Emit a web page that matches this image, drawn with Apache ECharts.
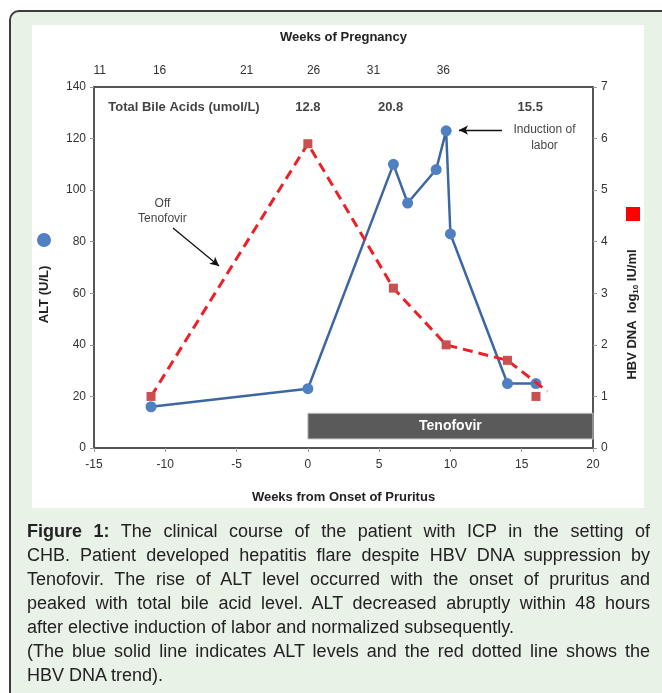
<!DOCTYPE html>
<html><head><meta charset="utf-8">
<script src="https://cdn.jsdelivr.net/npm/echarts@6/dist/echarts.min.js"></script>
<style>
html,body{margin:0;padding:0;width:662px;height:693px;overflow:hidden;background:#fff;font-family:"Liberation Sans",Arial,sans-serif;}
#frame{position:absolute;left:9px;top:10px;width:700px;height:720px;border:2px solid #3c3c3c;border-radius:10px;background:#e9f2e6;box-sizing:border-box;}
#panel{position:absolute;left:32px;top:25px;width:612px;height:483px;background:#fff;}
#chart{position:absolute;left:0;top:0;width:662px;height:693px;}
#caption{position:absolute;left:27px;top:519px;width:623px;font-size:18px;line-height:24px;color:#222;}
#caption div{white-space:nowrap;}
#caption .j{text-align:justify;text-align-last:justify;}
</style></head>
<body>
<div id="frame"></div>
<div id="panel"></div>
<div id="chart"></div>
<div id="caption">
<div class="j"><b>Figure 1:</b> The clinical course of the patient with ICP in the setting of</div>
<div class="j">CHB. Patient developed hepatitis flare despite HBV DNA suppression by</div>
<div class="j">Tenofovir. The rise of ALT level occurred with the onset of pruritus and</div>
<div class="j">peaked with total bile acid level. ALT decreased abruptly within 48 hours</div>
<div>after elective induction of labor and normalized subsequently.</div>
<div class="j">(The blue solid line indicates ALT levels and the red dotted line shows the</div>
<div>HBV DNA trend).</div>
</div>
<script>
// ---- data ----
const altWeeks = [-11, 0, 6, 7, 9, 9.7, 10, 14, 16];
const altValues = [16, 23, 110, 95, 108, 123, 83, 25, 25];
const hbvWeeks = [-11, 0, 6, 9.7, 14, 16];
const hbvValues = [1.0, 5.9, 3.1, 2.0, 1.7, 1.0];
const hbvTrendWeeks = [-11, 0, 6, 9.7, 14, 16.8];
const hbvTrendValues = [1.0, 5.9, 3.1, 2.0, 1.7, 1.1];
const pregnancyWeeks = ['11', '16', '21', '26', '31', '36'];
const pregnancyWeekAt = [-14.6, -10.4, -4.3, 0.4, 4.6, 9.5];
const bileAcidWeeks = [0, 5.8, 15.6];
const bileAcidValues = ['12.8', '20.8', '15.5'];
const bileAcidTitle = 'Total Bile Acids (umol/L)';
const tenofovirPeriod = [0, 20];

const FONT = '"Liberation Sans", Arial, sans-serif';
const zip = (a, b) => a.map((v, i) => [v, b[i]]);

const chart = echarts.init(document.getElementById('chart'), null, {renderer: 'canvas'});
const axisLineStyle = {color: '#555', width: 2};
const labelStyle = {color: '#333', fontSize: 12, fontFamily: FONT};
const nameStyle = {color: '#222', fontSize: 13, fontWeight: 'bold', fontFamily: FONT};

const bileLabels = [{value: [-14, 132.2], label: {formatter: bileAcidTitle, align: 'left'}}]
  .concat(bileAcidWeeks.map((w, i) => ({value: [w, 132.2], label: {formatter: bileAcidValues[i], align: 'center'}})));

const option = {
  animation: false,
  textStyle: {fontFamily: FONT},
  grid: {left: 94, top: 87, width: 499, height: 361, containLabel: false},
  legend: [
    {left: 37, top: 233, padding: 0, itemWidth: 14, itemHeight: 14, selectedMode: false,
     formatter: () => '', data: [{name: 'ALT (U/L)', icon: 'circle', itemStyle: {color: '#4f81c2'}}]},
    {left: 626, top: 207, padding: 0, itemWidth: 14, itemHeight: 14, selectedMode: false,
     formatter: () => '', data: [{name: 'HBV DNA', icon: 'rect', itemStyle: {color: '#ff0000'}}]}
  ],
  xAxis: [
    {type: 'value', position: 'bottom', min: -15, max: 20, interval: 5,
     axisLine: {show: true, onZero: false, lineStyle: axisLineStyle},
     axisTick: {show: true, length: 4, lineStyle: {color: '#999'}},
     axisLabel: Object.assign({margin: 11}, labelStyle),
     splitLine: {show: false},
     name: 'Weeks from Onset of Pruritus', nameLocation: 'middle', nameGap: 43, nameTextStyle: nameStyle},
    {type: 'value', position: 'top', min: -15, max: 20,
     axisLine: {show: true, onZero: false, lineStyle: axisLineStyle},
     axisTick: {show: false},
     axisLabel: Object.assign({margin: 10, customValues: pregnancyWeekAt, formatter: (v) => {
       let best = 0; pregnancyWeekAt.forEach((p, i) => { if (Math.abs(p - v) < Math.abs(pregnancyWeekAt[best] - v)) best = i; });
       return pregnancyWeeks[best];
     }}, labelStyle),
     splitLine: {show: false},
     name: 'Weeks of Pregnancy', nameLocation: 'middle', nameGap: 43, nameTextStyle: nameStyle}
  ],
  yAxis: [
    {type: 'value', position: 'left', min: 0, max: 140, interval: 20,
     axisLine: {show: true, onZero: false, lineStyle: axisLineStyle},
     axisTick: {show: true, length: 4, lineStyle: {color: '#999'}},
     axisLabel: Object.assign({margin: 8}, labelStyle),
     splitLine: {show: false},
     name: 'ALT (U/L)', nameLocation: 'middle', nameGap: 43, nameRotate: 90,
     nameTextStyle: Object.assign({padding: [0, 54, 0, 0]}, nameStyle)},
    {type: 'value', position: 'right', min: 0, max: 7, interval: 1,
     axisLine: {show: true, onZero: false, lineStyle: axisLineStyle},
     axisTick: {show: true, length: 4, lineStyle: {color: '#999'}},
     axisLabel: Object.assign({margin: 8}, labelStyle),
     splitLine: {show: false},
     name: 'HBV DNA  log{s|10} IU/ml', nameLocation: 'middle', nameGap: 32, nameRotate: 90,
     nameTextStyle: Object.assign({padding: [0, 94, 0, 0],
       rich: {s: {fontSize: 8, fontWeight: 'bold', color: '#222', padding: [7, 0, 0, 0], fontFamily: FONT}}}, nameStyle)}
  ],
  series: [
    {name: 'Notes', type: 'scatter', xAxisIndex: 0, yAxisIndex: 0, symbolSize: 0, silent: true, z: 1,
     data: bileLabels.concat([
       {value: [-10.2, 92], label: {formatter: 'Off\nTenofovir', align: 'center', fontWeight: 'normal', fontSize: 12, lineHeight: 15}},
       {value: [16.6, 120.2], label: {formatter: 'Induction of\nlabor', align: 'center', fontWeight: 'normal', fontSize: 12, lineHeight: 16}}
     ]),
     label: {show: true, position: 'inside', color: '#111', fontSize: 13, fontWeight: 'bold', fontFamily: FONT},
     markArea: {silent: true,
       itemStyle: {color: '#5a5a5a', borderColor: '#c8c8c8', borderWidth: 1},
       label: {show: true, position: 'inside', color: '#fff', fontWeight: 'bold', fontSize: 14, fontFamily: FONT},
       data: [[{name: 'Tenofovir', xAxis: tenofovirPeriod[0], yAxis: 3.5}, {xAxis: tenofovirPeriod[1], yAxis: 13.5}]]},
     markLine: {silent: true, symbol: ['none', 'arrow'], symbolSize: [7, 9],
       lineStyle: {color: '#111', width: 1.3, type: 'solid'}, label: {show: false},
       data: [
         [{coord: [-9.46, 85.3]}, {coord: [-6.23, 70.6]}],
         [{coord: [13.62, 123.3]}, {coord: [10.6, 123.3]}]
       ]}
    },
    {name: 'ALT (U/L)', type: 'line', xAxisIndex: 0, yAxisIndex: 0, z: 3,
     data: zip(altWeeks, altValues), symbol: 'circle', symbolSize: 11,
     lineStyle: {color: '#3d67a3', width: 2.5}, itemStyle: {color: '#4f81c2'}},
    {name: 'HBV DNA', type: 'line', xAxisIndex: 0, yAxisIndex: 1, z: 4,
     data: zip(hbvTrendWeeks, hbvTrendValues), symbol: 'none',
     lineStyle: {color: '#ee1f26', width: 3, type: [10, 6]}, itemStyle: {color: '#ee1f26'}},
    {name: 'HBV DNA markers', type: 'scatter', xAxisIndex: 0, yAxisIndex: 1, z: 5,
     data: zip(hbvWeeks, hbvValues), symbol: 'rect', symbolSize: 9,
     itemStyle: {color: '#c9504e', opacity: 1}}
  ]
};
chart.setOption(option);
</script>
</body></html>
